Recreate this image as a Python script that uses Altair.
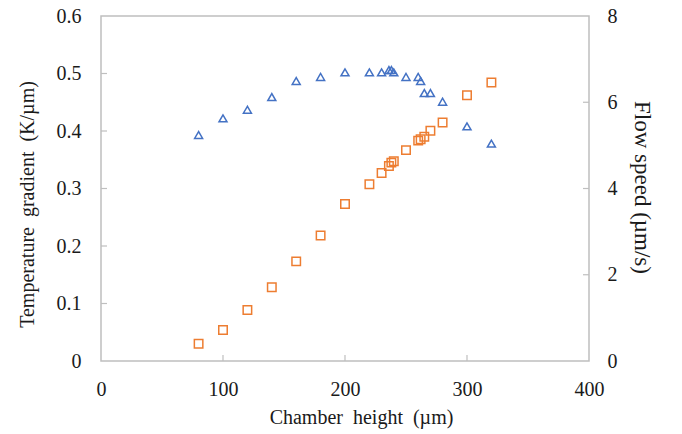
import altair as alt
import pandas as pd

# Chamber height (µm) for each measurement
height_um = [80, 100, 120, 140, 160, 180, 200, 220, 230, 236, 238, 240,
             250, 260, 262, 265, 270, 280, 300, 320]
# Temperature gradient (K/µm), left axis
temp_gradient = [0.393, 0.422, 0.437, 0.459, 0.487, 0.494, 0.502, 0.502,
                 0.502, 0.506, 0.506, 0.502, 0.494, 0.494, 0.487, 0.466,
                 0.466, 0.451, 0.408, 0.378]
# Flow speed (µm/s), right axis
flow_speed = [0.40, 0.72, 1.18, 1.71, 2.31, 2.91, 3.64, 4.10, 4.36, 4.52,
              4.60, 4.63, 4.89, 5.11, 5.14, 5.20, 5.34, 5.53, 6.16, 6.46]

x_ticks = [0, 100, 200, 300, 400]
left_ticks = [0, 0.1, 0.2, 0.3, 0.4, 0.5, 0.6]
right_ticks = [0, 2, 4, 6, 8]

W, H = 488, 345
FONT = "Liberation Serif"
GRID = "#bfbfbf"
TICK_LEN = 6
SP = "\u00a0\u00a0"

df = pd.DataFrame({"h": height_um, "g": temp_gradient, "v": flow_speed})
xt = pd.DataFrame({"t": x_ticks[1:-1]})
lt = pd.DataFrame({"t": left_ticks[1:-1]})
rt = pd.DataFrame({"t": right_ticks[1:-1]})

x_scale = alt.Scale(domain=[0, 400], nice=False)
x_axis = alt.Axis(values=x_ticks, title=f"Chamber{SP}height{SP}(µm)",
                  titleX=260, titleY=62, titleBaseline="alphabetic")

y_left_scale = alt.Scale(domain=[0, 0.6], nice=False)
y_left_axis = alt.Axis(values=left_ticks, title=f"Temperature{SP}gradient{SP}(K/µm)",
                       format="~g", labelPadding=20,
                       titleX=-74, titleY=188, titleBaseline="middle")
y_right_scale = alt.Scale(domain=[0, 8], nice=False)
y_right_axis = alt.Axis(values=right_ticks, orient="right", title="Flow speed (µm/s)",
                        titleFontSize=23, titleX=52, titleY=171, titleBaseline="middle")

triangles = alt.Chart(df).mark_point(
    shape="triangle-up", filled=False, color="#4472C4", size=64, strokeWidth=1.5, opacity=1
).encode(
    x=alt.X("h:Q", scale=x_scale, axis=x_axis),
    y=alt.Y("g:Q", scale=y_left_scale, axis=y_left_axis),
)

left_tick_marks = alt.Chart(lt).mark_rule(color=GRID, strokeWidth=1.2).encode(
    y=alt.Y("t:Q", scale=y_left_scale, axis=y_left_axis),
    x=alt.value(0), x2=alt.value(TICK_LEN),
)

x_tick_marks = alt.Chart(xt).mark_rule(color=GRID, strokeWidth=1.2).encode(
    x=alt.X("t:Q", scale=x_scale, axis=x_axis),
    y=alt.value(H), y2=alt.value(H - TICK_LEN),
)

squares = alt.Chart(df).mark_point(
    shape="square", filled=False, color="#ED7D31", size=72, strokeWidth=1.5, opacity=1
).encode(
    x=alt.X("h:Q", scale=x_scale, axis=x_axis),
    y=alt.Y("v:Q", scale=y_right_scale, axis=y_right_axis),
)

right_tick_marks = alt.Chart(rt).mark_rule(color=GRID, strokeWidth=1.2).encode(
    y=alt.Y("t:Q", scale=y_right_scale, axis=y_right_axis),
    x=alt.value(W), x2=alt.value(W - TICK_LEN),
)

left_layer = alt.layer(x_tick_marks, left_tick_marks, triangles)
right_layer = alt.layer(right_tick_marks, squares)

chart = alt.layer(left_layer, right_layer).resolve_scale(y="independent").properties(
    width=W, height=H,
    autosize=alt.AutoSizeParams(type="none"),
    padding={"left": 101, "top": 16, "right": 93, "bottom": 73},
    background="white",
).configure_view(
    stroke=GRID, strokeWidth=1.5
).configure_axis(
    grid=False, domain=False, ticks=False, labelFlush=False,
    labelFont=FONT, labelFontSize=20, labelColor="#1a1a1a", labelPadding=18,
    titleFont=FONT, titleFontSize=20, titleColor="#1a1a1a", titleFontWeight="normal",
)

chart.save("out.html", embed_options={"renderer": "svg", "actions": False})
